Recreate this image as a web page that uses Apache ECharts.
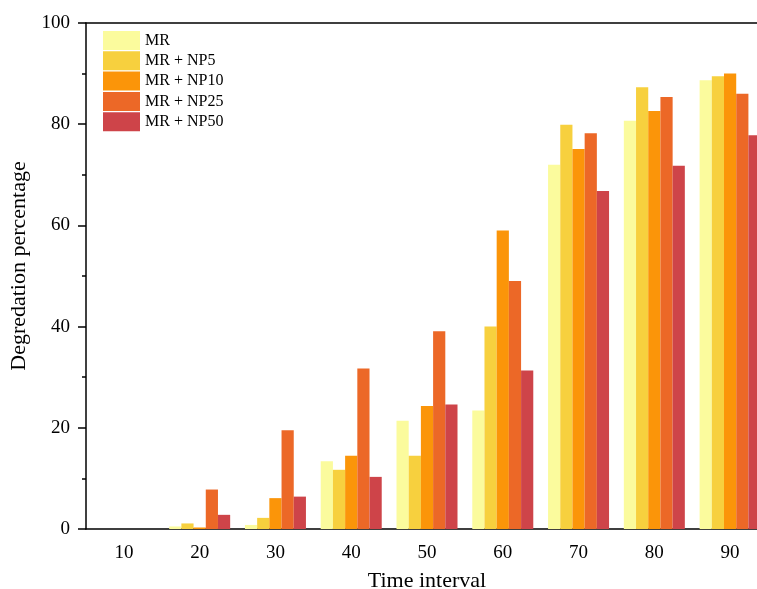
<!DOCTYPE html>
<html>
<head>
<meta charset="utf-8">
<script src="https://cdn.jsdelivr.net/npm/echarts@6/dist/echarts.min.js"></script>
<style>html,body{margin:0;padding:0;background:#fff;}#c{width:757px;height:589px;}</style>
</head>
<body>
<div id="c"></div>
<script>
const categories = ['10','20','30','40','50','60','70','80','90'];
const seriesNames = ['MR','MR + NP5','MR + NP10','MR + NP25','MR + NP50'];
const mr    = [0, 0.5, 0.8, 13.4, 21.4, 23.4, 72.0, 80.7, 88.7];
const np5   = [0, 1.1, 2.2, 11.7, 14.5, 40.0, 79.9, 87.3, 89.5];
const np10  = [0, 0.3, 6.1, 14.5, 24.3, 59.0, 75.1, 82.6, 90.0];
const np25  = [0, 7.8, 19.5, 31.7, 39.1, 49.0, 78.2, 85.4, 86.0];
const np50  = [0, 2.8, 6.4, 10.3, 24.6, 31.3, 66.8, 71.8, 77.8];
const colors = ['#FBFB9D','#F7D03E','#FB9509','#EC6827','#CE4449'];
const xName = 'Time interval';
const yName = 'Degredation percentage';

const values = [mr, np5, np10, np25, np50];
const font = '"Liberation Serif", "Times New Roman", serif';

const chart = echarts.init(document.getElementById('c'));
chart.setOption({
  animation: false,
  backgroundColor: '#fff',
  grid: { left: 86, right: -11, top: 23, bottom: 60, containLabel: false, outerBoundsMode: 'none' },
  legend: {
    orient: 'vertical', left: 103, top: 31, padding: 0,
    itemWidth: 37, itemHeight: 19, itemGap: 1.3,
    icon: 'rect',
    textStyle: { fontFamily: font, fontSize: 16, color: '#000' },
    data: seriesNames
  },
  xAxis: [
    {
      type: 'category', data: categories, position: 'bottom',
      name: xName, nameLocation: 'middle', nameGap: 41,
      nameTextStyle: { fontFamily: font, fontSize: 22, color: '#000' },
      axisLine: { lineStyle: { color: '#000', width: 1.5 } },
      axisTick: { alignWithLabel: true, length: 7, lineStyle: { color: '#000', width: 1.5 } },
      axisLabel: { fontFamily: font, fontSize: 19, color: '#000', margin: 15 },
      splitLine: { show: false }
    },
    {
      type: 'category', data: categories, position: 'bottom',
      axisLine: { show: false },
      axisTick: { length: 4, lineStyle: { color: '#000', width: 1.5 } },
      axisLabel: { show: false },
      splitLine: { show: false }
    },
    {
      type: 'category', data: categories, position: 'top',
      axisLine: { lineStyle: { color: '#000', width: 1.5 } },
      axisTick: { show: false },
      axisLabel: { show: false },
      splitLine: { show: false }
    }
  ],
  yAxis: {
    type: 'value', min: 0, max: 100, interval: 20,
    name: yName, nameLocation: 'middle', nameGap: 56,
    nameTextStyle: { fontFamily: font, fontSize: 22, color: '#000', padding: [0, 0, 0, 20] },
    axisLine: { show: true, lineStyle: { color: '#000', width: 1.5 } },
    axisTick: { show: true, length: 8, lineStyle: { color: '#000', width: 1.5 } },
    minorTick: { show: true, splitNumber: 2, length: 4, lineStyle: { color: '#000', width: 1.5 } },
    axisLabel: { fontFamily: font, fontSize: 19, color: '#000', margin: 16 },
    splitLine: { show: false }
  },
  series: seriesNames.map((n, i) => ({
    name: n, type: 'bar', data: values[i], xAxisIndex: 0,
    barGap: '0%', barCategoryGap: '19.5%',
    itemStyle: { color: colors[i] }
  }))
});
</script>
</body>
</html>
